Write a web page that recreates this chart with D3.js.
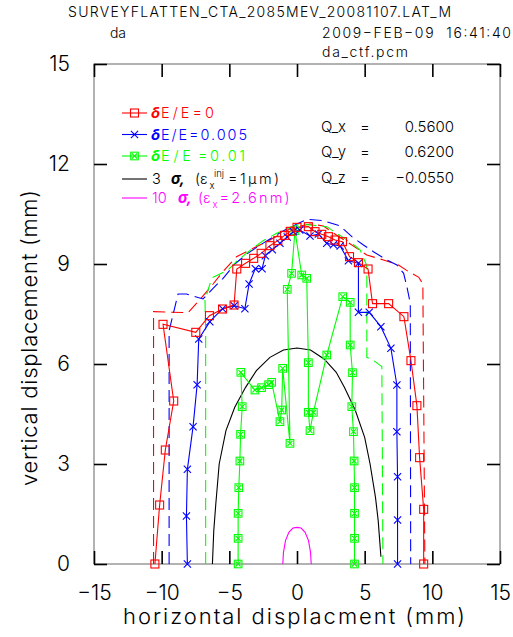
<!DOCTYPE html>
<html><head><meta charset="utf-8">
<script src="https://cdn.jsdelivr.net/npm/d3@7"></script>
<style>
body{margin:0;background:#fff;}
svg{display:block;}
text{font-family:Inter,"Liberation Sans",Arial,sans-serif;white-space:pre;}
</style>
</head><body>
<svg id="c" width="513" height="637"></svg>
<script>
// ---- data ----
const xTicks = [-15, -10, -5, 0, 5, 10, 15];
const yTicks = [0, 3, 6, 9, 12, 15];

// dE/E = 0 (red, squares)
const red0 = [[-10.5,0],[-10.15,1.77],[-9.73,3.42],[-9.11,4.89],[-9.9,7.19],[-7.48,6.95],[-6.47,7.45],[-5.5,7.65],[-4.65,7.77],[-4.45,8.85],[-3.8,9.02],[-3.2,9.17],[-2.65,9.32],[-2.0,9.55],[-1.42,9.7],[-0.92,9.86],[-0.5,9.98],[0,10.1],[0.84,10.12],[1.33,9.97],[1.83,9.89],[2.32,9.82],[2.81,9.72],[3.36,9.67],[3.88,9.22],[4.54,9.04],[5.25,8.85],[5.58,7.81],[6.77,7.81],[7.9,7.42],[8.42,6.1],[8.86,4.75],[9.06,3.19],[9.36,1.64],[9.36,0]];
const red0Dash = [[-10.6,0],[-10.6,7.57],[-8.05,7.54],[-7.2,7.92],[-6.2,8.4],[-5.58,8.72],[-4.47,9.22],[-3.24,9.47],[-2.0,9.72],[-1.0,9.95],[-0.27,10.1],[1.0,10.2],[1.95,10.14],[2.8,9.9],[3.68,9.67],[5.16,9.27],[6.39,9.12],[7.5,8.97],[8.25,8.77],[9.0,8.6],[9.3,8.4],[9.45,0]];

// dE/E = 0.005 (blue, crosses)
const blue005 = [[-8.1,0],[-8.17,1.44],[-8.1,2.84],[-7.68,4.12],[-7.38,5.38],[-7.26,6.75],[-6.44,7.27],[-5.5,7.66],[-4.64,7.75],[-3.85,7.66],[-3.54,8.4],[-3.08,8.86],[-2.58,8.86],[-2.34,9.25],[-1.82,9.43],[-1.26,9.62],[-0.72,9.81],[-0.27,9.97],[0.2,10.02],[0.96,9.84],[1.58,9.9],[2.2,9.62],[2.69,9.58],[3.19,9.54],[3.8,9.1],[4.54,9.02],[4.54,7.55],[5.34,7.55],[6.2,7.12],[6.94,6.47],[7.38,5.37],[7.38,3.97],[7.43,2.62],[7.43,1.32],[7.43,0]];
const blue005Dash = [[-9.45,0],[-9.45,7.0],[-8.79,8.1],[-8.17,8.1],[-7.68,8.04],[-6.94,7.95],[-6.2,8.27],[-5.46,8.57],[-4.6,9.0],[-3.7,9.3],[-2.8,9.55],[-2.0,9.75],[-1.0,10.0],[0,10.2],[0.72,10.34],[1.95,10.3],[3.19,10.14],[4.05,9.82],[4.91,9.57],[5.65,9.37],[6.64,9.12],[7.38,8.97],[7.88,8.72],[8.12,8.32],[8.37,7.82],[8.4,0]];

// dE/E = 0.01 (green, boxed crosses)
const green01 = [[-4.35,0],[-4.35,0.77],[-4.35,1.52],[-4.3,2.29],[-4.22,3.09],[-4.17,3.89],[-4.05,4.72],[-4.15,5.75],[-3.11,5.22],[-2.62,5.29],[-2.1,5.38],[-1.87,5.45],[-1.26,4.27],[-1.13,4.62],[-1.06,5.87],[-0.52,3.62],[-0.72,8.24],[-0.4,8.72],[-0.15,10.0],[0.35,8.67],[0.72,8.57],[0.84,6.04],[0.84,4.55],[0.96,4.0],[1.21,4.55],[2.2,6.27],[3.38,8.02],[3.93,7.85],[3.93,6.57],[4.1,5.74],[4.05,4.72],[4.17,3.97],[4.22,3.09],[4.25,2.29],[4.25,1.52],[4.25,0.77],[4.25,0]];
const green01Dash = [[-6.75,0],[-6.75,7.0],[-6.8,7.92],[-6.3,8.58],[-5.1,8.82],[-4.4,9.1],[-3.5,9.4],[-2.5,9.7],[-1.5,9.92],[-0.5,10.1],[0.3,10.2],[0.96,10.17],[2.2,10.12],[3.31,9.82],[4.05,9.62],[4.67,9.42],[5.1,9.0],[5.16,8.9],[5.16,6.2],[5.78,6.07],[6.27,5.92],[6.35,0]];

// 3 sigma (black) and 10 sigma (magenta) envelopes
const sigma3 = [[-6.25,0],[-6.15,1.0],[-6.0,1.8],[-5.75,3.0],[-5.25,4.0],[-4.6,4.7],[-3.8,5.3],[-3.0,5.8],[-2.0,6.2],[-1.0,6.42],[0,6.48],[1.0,6.42],[2.0,6.15],[2.9,5.75],[3.5,5.3],[4.3,4.62],[5.0,3.8],[5.4,3.0],[5.8,2.0],[6.0,1.3],[6.2,0.22]];
const sigma10 = [[-1.05,0],[-1.0,0.35],[-0.85,0.7],[-0.6,0.95],[-0.3,1.08],[0,1.1],[0.3,1.08],[0.6,0.95],[0.85,0.7],[1.0,0.35],[1.05,0]];

const tuneLabels = ["Q_x", "Q_y", "Q_z"];
const tuneValues = ["0.5600", "0.6200", "\u22120.0550"];

// ---- drawing ----
const svg = d3.select('#c');
const x = d3.scaleLinear().domain([-15, 15]).range([94, 500]);
const y = d3.scaleLinear().domain([0, 15]).range([564, 64]);
const FONT = 'Inter,"Liberation Sans",Arial,sans-serif';

svg.append('rect').attr('x', x(-15)).attr('y', y(15))
  .attr('width', x(15) - x(-15)).attr('height', y(0) - y(15))
  .attr('fill', 'none').attr('stroke', '#666').attr('stroke-width', 1);

function styleAxis(g) {
  g.select('.domain').remove();
  g.selectAll('.tick line').attr('stroke', '#000').attr('stroke-width', 1.6);
  g.selectAll('.tick text').attr('font-family', FONT).attr('font-size', 21)
    .style('font-weight', 300).attr('fill', '#000');
}
const fmt = d3.format('d');
svg.append('g').attr('transform', `translate(0,${y(0)})`)
  .call(d3.axisBottom(x).tickValues(xTicks).tickSizeInner(-13).tickSizeOuter(0).tickPadding(21).tickFormat(fmt))
  .call(styleAxis);
svg.append('g').attr('transform', `translate(0,${y(15)})`)
  .call(d3.axisTop(x).tickValues(xTicks).tickSizeInner(-13).tickSizeOuter(0).tickFormat(''))
  .call(styleAxis);
svg.append('g').attr('transform', `translate(${x(-15)},0)`)
  .call(d3.axisLeft(y).tickValues(yTicks).tickSizeInner(-13).tickSizeOuter(0).tickPadding(24).tickFormat(fmt))
  .call(styleAxis);
svg.append('g').attr('transform', `translate(${x(15)},0)`)
  .call(d3.axisRight(y).tickValues(yTicks).tickSizeInner(-13).tickSizeOuter(0).tickFormat(''))
  .call(styleAxis);

const line = d3.line().x(d => x(d[0])).y(d => y(d[1]));
const plot = svg.append('g');
function drawLine(data, color, dash) {
  plot.append('path').datum(data).attr('d', line).attr('fill', 'none')
    .attr('stroke', color).attr('stroke-width', 1.1)
    .attr('stroke-dasharray', dash || null);
}
const DASH = '12,6';
drawLine(red0Dash, '#ff0000', DASH);
drawLine(blue005Dash, '#0000ff', DASH);
drawLine(green01Dash, '#00ff00', DASH);
drawLine(sigma3, '#000000');
drawLine(sigma10, '#ff00ff');
drawLine(green01, '#00ff00');
drawLine(blue005, '#0000ff');
drawLine(red0, '#ff0000');

function square(g, cx, cy, color) {
  g.append('rect').attr('x', cx - 4).attr('y', cy - 4).attr('width', 8).attr('height', 8)
    .attr('fill', 'none').attr('stroke', color).attr('stroke-width', 1.1);
}
function cross(g, cx, cy, color) {
  g.append('path').attr('d', `M${cx-3.6},${cy-3.6}L${cx+3.6},${cy+3.6}M${cx-3.6},${cy+3.6}L${cx+3.6},${cy-3.6}`)
    .attr('stroke', color).attr('stroke-width', 1.1).attr('fill', 'none');
}
function boxCross(g, cx, cy, color) {
  g.append('rect').attr('x', cx - 3.8).attr('y', cy - 3.8).attr('width', 7.6).attr('height', 7.6)
    .attr('fill', 'none').attr('stroke', color).attr('stroke-width', 1.1);
  g.append('path').attr('d', `M${cx-2.5},${cy-2.5}L${cx+2.5},${cy+2.5}M${cx-2.5},${cy+2.5}L${cx+2.5},${cy-2.5}`)
    .attr('stroke', color).attr('stroke-width', 1.1).attr('fill', 'none');
}
const mk = svg.append('g');
green01.forEach(d => boxCross(mk, x(d[0]), y(d[1]), '#00ff00'));
blue005.forEach(d => cross(mk, x(d[0]), y(d[1]), '#0000ff'));
red0.forEach(d => square(mk, x(d[0]), y(d[1]), '#ff0000'));

// ---- legend ----
const lg = svg.append('g');
function lgLine(cy, color) {
  lg.append('line').attr('x1', 122).attr('x2', 147).attr('y1', cy).attr('y2', cy)
    .attr('stroke', color).attr('stroke-width', 1.1);
}
function txt(xp, yp, s, color, size, opts) {
  const t = lg.append('text').attr('x', xp).attr('y', yp).attr('fill', color)
    .attr('font-size', size).attr('font-family', FONT).style('font-weight', 300).text(s);
  if (opts && opts.len) t.attr('textLength', opts.len).attr('lengthAdjust', 'spacing');
  if (opts && opts.greek) t.style('font-style', 'italic').style('font-weight', 700);
  if (opts && opts.anchor) t.attr('text-anchor', opts.anchor);
  return t;
}
lgLine(113, '#ff0000'); square(lg, 134.5, 113, '#ff0000');
txt(151, 118, '\u03B4', '#ff0000', 15, {greek: true});
txt(161, 118, 'E/E=0', '#ff0000', 14.5, {len: 53});
lgLine(134.5, '#0000ff'); cross(lg, 134.5, 134.5, '#0000ff');
txt(151, 139.5, '\u03B4', '#0000ff', 15, {greek: true});
txt(161, 139.5, 'E/E=0.005', '#0000ff', 14.5, {len: 86});
lgLine(156, '#00ff00'); boxCross(lg, 134.5, 156, '#00ff00');
txt(151, 161, '\u03B4', '#00ff00', 15, {greek: true});
txt(161, 161, 'E/E', '#00ff00', 14.5, {len: 30});
txt(198, 161, '=0.01', '#00ff00', 14.5, {len: 47});
lgLine(179, '#000000');
txt(152, 184, '3', '#000', 14.5);
txt(171, 184, '\u03C3,', '#000', 15, {greek: true});
txt(195, 184, '(\u03B5', '#000', 14.5);
txt(209.5, 189, 'x', '#000', 9.5);
txt(214, 177, 'inj', '#000', 9.5);
txt(228, 184, '=1\u03BCm)', '#000', 14.5, {len: 51});
lgLine(198, '#ff00ff');
txt(152, 203, '10', '#ff00ff', 14.5);
txt(178, 203, '\u03C3,', '#ff00ff', 15, {greek: true});
txt(198, 203, '(\u03B5', '#ff00ff', 14.5);
txt(212.5, 208, 'x', '#ff00ff', 9.5);
txt(219.5, 203, '=2.6nm)', '#ff00ff', 14.5, {len: 70});

// ---- tune text ----
const qBase = [131.5, 156.5, 183];
tuneLabels.forEach((s, i) => {
  txt(321, qBase[i], s, '#000', 15, {len: 25});
  txt(360, qBase[i], '=', '#000', 15);
  txt(454, qBase[i], tuneValues[i], '#000', 15, {anchor: 'end'});
});

// ---- titles ----
txt(68, 17, 'SURVEYFLATTEN_CTA_2085MEV_20081107.LAT_M', '#000', 14, {len: 383});
txt(110, 38, 'da', '#000', 14, {len: 16});
txt(322, 38, '2009\u2212FEB\u221209  16:41:40', '#000', 14, {len: 189});
txt(322, 57, 'da_ctf.pcm', '#000', 14, {len: 86});

// axis titles
txt(294, 624, 'horizontal displacment (mm)', '#000', 22, {len: 342, anchor: 'middle'});
svg.append('text').attr('transform', 'translate(37,338) rotate(-90)')
  .attr('text-anchor', 'middle').attr('font-family', FONT).attr('font-size', 22).style('font-weight', 300)
  .attr('textLength', 296).attr('lengthAdjust', 'spacing')
  .text('vertical displacement (mm)');
</script>
</body></html>
